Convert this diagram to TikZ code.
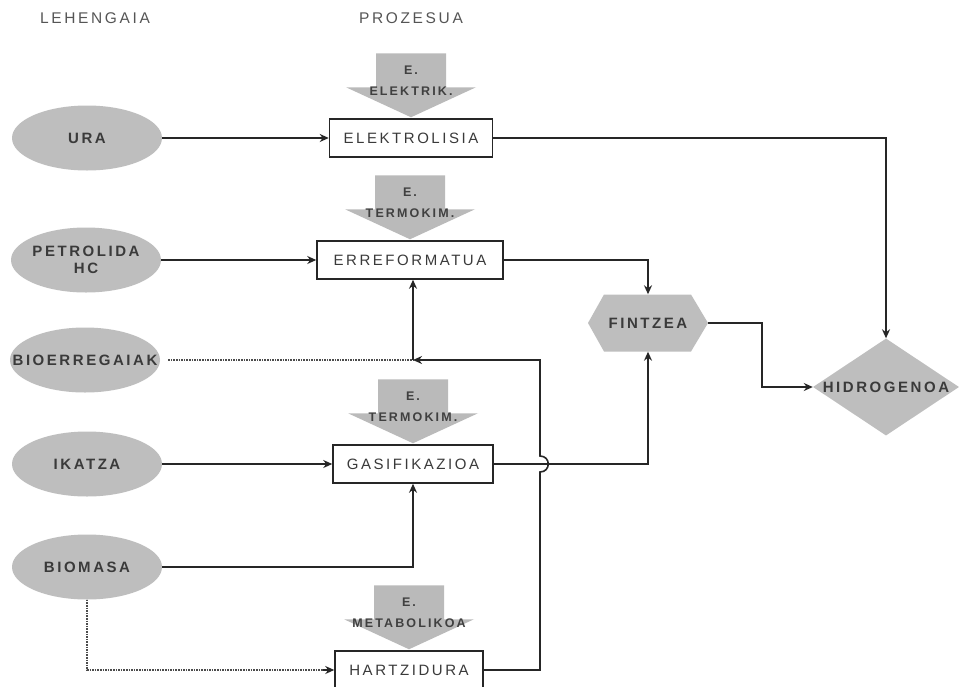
\documentclass[tikz,border=0pt]{standalone}
\usepackage{fontspec}
\setmainfont{Liberation Sans}
\newfontfamily\lbl[LetterSpace=17]{Liberation Sans}
\usetikzlibrary{shapes.geometric,arrows.meta,calc}
\definecolor{shapegray}{HTML}{BEBEBE}
\definecolor{egray}{HTML}{BABABA}
\definecolor{txt}{HTML}{3A3A3A}
\definecolor{hdrtxt}{HTML}{555555}
\newcommand\energyarrow[3]{%
  \coordinate (#3tip) at ([yshift=1pt]#1.north);
  \fill[egray] (#3tip) -- ++(-65,-30) -- ++(30,0) -- ++(0,-34) -- ++(70,0) -- ++(0,34) -- ++(30,0) -- cycle;
  \node[etext] (#3a) at ($(#3tip)+(0,-47)$) {E.};
  \node[etext] (#3b) at ($(#3tip)+(0,-26)$) {#2};
}
\begin{document}
\begin{tikzpicture}[x=1pt,y=-1pt,
  every node/.style={text=txt},
  hdr/.style={font=\lbl\fontsize{15.5}{17}\selectfont, text=hdrtxt},
  raw/.style={ellipse, fill=shapegray, minimum width=150, minimum height=65, inner sep=0,
    align=center, font=\lbl\bfseries\fontsize{15}{17}\selectfont},
  proc/.style={draw=black!85, line width=1.5pt, fill=white, minimum width=#1, minimum height=38,
    inner sep=0, font=\lbl\fontsize{15}{17}\selectfont, text=txt},
  etext/.style={inner sep=0, font=\lbl\bfseries\fontsize{12.5}{14}\selectfont, text=black!75},
  hexa/.style={minimum width=120, minimum height=57, inner sep=0,
    font=\lbl\bfseries\fontsize{15}{17}\selectfont,
    path picture={\fill[shapegray] (path picture bounding box.west)
      -- ([xshift=16pt]path picture bounding box.north west)
      -- ([xshift=-17pt]path picture bounding box.north east)
      -- (path picture bounding box.east)
      -- ([xshift=-17pt]path picture bounding box.south east)
      -- ([xshift=16pt]path picture bounding box.south west) -- cycle;}},
  dia/.style={diamond, fill=shapegray, minimum width=146, minimum height=97, inner sep=0,
    font=\lbl\bfseries\fontsize{15}{17}\selectfont},
  conn/.style={line width=1.6pt, draw=black!85, -{Stealth[length=9pt,width=8pt]}},
  dconn/.style={line width=1.6pt, draw=black!70, densely dotted}
]
\useasboundingbox (0,0) rectangle (959,686);
\fill[white] (0,0) rectangle (959,686);

% headers
\node[hdr] (h1) at (95,18) {LEHENGAIA};
\node[hdr] (h2) at (411,18) {PROZESUA};

% raw materials
\node[raw] (ura) at (87,138) {URA};
\node[raw] (petro) at (86,260) {\makebox[0pt]{PETROLIDA}\\HC};
\node[raw] (bio) at (85,360) {\makebox[0pt]{BIOERREGAIAK}};
\node[raw] (ikatza) at (87,464) {IKATZA};
\node[raw] (biomasa) at (87,567) {BIOMASA};

% processes
\node[proc=163] (elek) at (411,138) {ELEKTROLISIA};
\node[proc=186] (erre) at (410,260) {ERREFORMATUA};
\node[proc=160] (gasif) at (413,464) {GASIFIKAZIOA};
\node[proc=148] (hartz) at (409,670) {HARTZIDURA};

% energy inputs
\energyarrow{elek}{ELEKTRIK.}{e1}
\energyarrow{erre}{TERMOKIM.}{e2}
\energyarrow{gasif}{TERMOKIM.}{e3}
\energyarrow{hartz}{METABOLIKOA}{e4}

% outputs
\node[hexa] (fin) at (648,323) {FINTZEA};
\node[dia] (hidro) at (886,387) {\makebox[0pt]{HIDROGENOA}};

% helper coordinates
\coordinate (j) at (413,360);
\coordinate (k) at (540,360);
\coordinate (hopB) at (540,472);
\coordinate (hopT) at (540,456);
\coordinate (f1) at (762,323);

% connectors
\draw[conn] (ura) -- (elek);
\draw[conn] (petro) -- (erre);
\draw[conn] (ikatza.east) -- (ikatza.east -| gasif.west);
\draw[conn] (elek.east) -| (hidro.north);
\draw[conn] (erre.east) -| (fin.north);
\draw[conn] (gasif.east) -| (fin.south);
\draw[conn] (biomasa.east) -| (gasif.south);
\draw[dconn] (biomasa.south) |- ([xshift=-10pt]hartz.west);
\draw[conn] ([xshift=-11pt]hartz.west) -- (hartz.west);
\draw[dconn, shorten <=8pt] (bio.east) -- (j);
\draw[conn] (hartz.east) -- (hartz.east -| k) -- (hopB)
  .. controls ([xshift=11pt]hopB) and ([xshift=11pt]hopT) .. (hopT) -- (k) -- (j);
\draw[conn] (j) -- (j |- erre.south);
\draw[conn] (fin.east) -- (f1) |- (hidro.west);
\end{tikzpicture}
\end{document}
